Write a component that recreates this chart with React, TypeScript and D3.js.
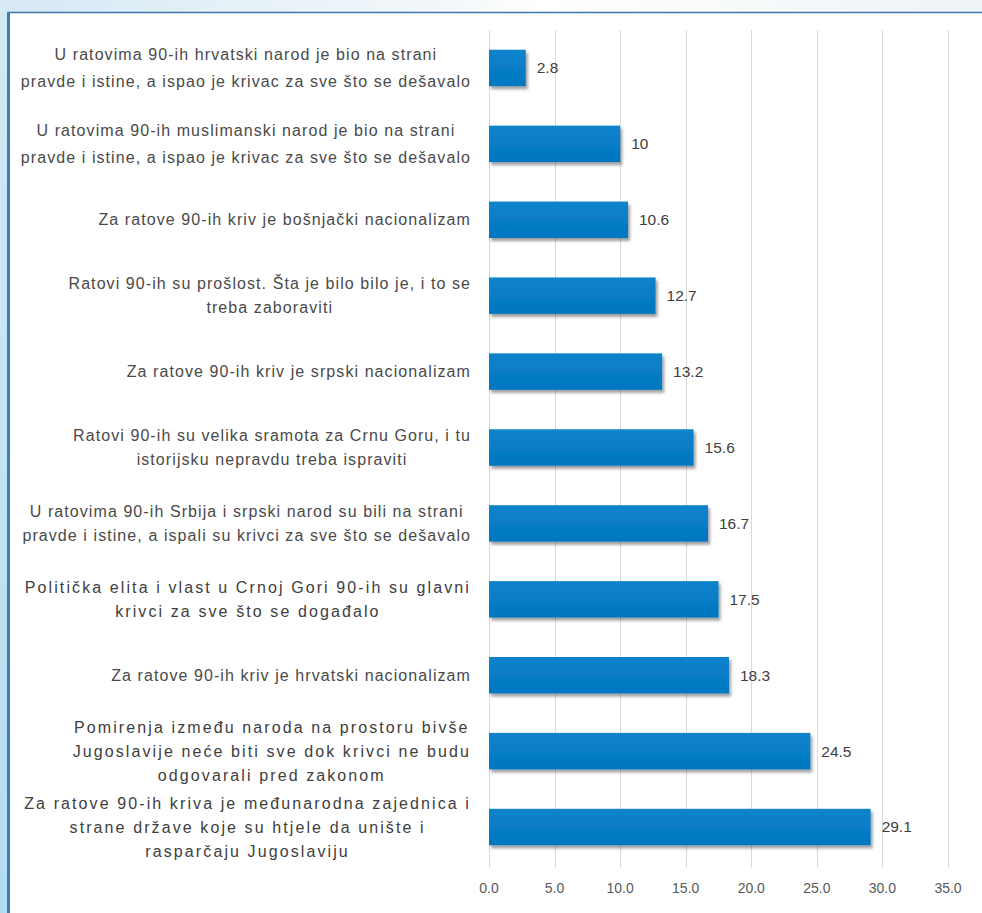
import React, { useEffect, useRef } from "react";
import * as d3 from "d3";

const W = 982;
const H = 913;

const categories: string[][] = [
  ["U ratovima 90-ih hrvatski narod je bio na strani", "pravde i istine, a ispao je krivac za sve što se dešavalo"],
  ["U ratovima 90-ih muslimanski narod je bio na strani", "pravde i istine, a ispao je krivac za sve što se dešavalo"],
  ["Za ratove 90-ih kriv je bošnjački nacionalizam"],
  ["Ratovi 90-ih su prošlost. Šta je bilo bilo je, i to se", "treba zaboraviti"],
  ["Za ratove 90-ih kriv je srpski nacionalizam"],
  ["Ratovi 90-ih su velika sramota za Crnu Goru, i tu", "istorijsku nepravdu treba ispraviti"],
  ["U ratovima 90-ih Srbija i srpski narod su bili na strani", "pravde i istine, a ispali su krivci za sve što se dešavalo"],
  ["Politička elita i vlast u Crnoj Gori 90-ih su glavni", "krivci za sve što se događalo"],
  ["Za ratove 90-ih kriv je hrvatski nacionalizam"],
  ["Pomirenja između naroda na prostoru bivše", "Jugoslavije neće biti sve dok krivci ne budu", "odgovarali pred zakonom"],
  ["Za ratove 90-ih kriva je međunarodna zajednica i", "strane države koje su htjele da unište i", "rasparčaju Jugoslaviju"],
];

const values: number[] = [2.8, 10, 10.6, 12.7, 13.2, 15.6, 16.7, 17.5, 18.3, 24.5, 29.1];

const xTicks: number[] = [0, 5, 10, 15, 20, 25, 30, 35];

const FONT = "'Liberation Sans', Arial, sans-serif";
// rows whose labels are set with the looser letter spacing
const looseRows = new Set([7, 9, 10]);

export default function App() {
  const ref = useRef<SVGSVGElement | null>(null);

  useEffect(() => {
    const svg = d3.select(ref.current);
    svg.selectAll("*").remove();

    const plot = { left: 489, right: 948, top: 30, bottom: 865 };

    const x = d3.scaleLinear().domain([0, 35]).range([plot.left, plot.right]);
    const y = d3
      .scaleBand<number>()
      .domain(d3.range(values.length))
      .range([plot.top, plot.bottom])
      .paddingInner(0.52)
      .paddingOuter(0.26);

    const defs = svg.append("defs");
    const bg = defs
      .append("linearGradient")
      .attr("id", "topStrip")
      .attr("x1", "0")
      .attr("x2", "1")
      .attr("y1", "0")
      .attr("y2", "0");
    bg.append("stop").attr("offset", "0").attr("stop-color", "#d6e9f5");
    bg.append("stop").attr("offset", "0.45").attr("stop-color", "#f3f7fa");
    bg.append("stop").attr("offset", "0.55").attr("stop-color", "#ffffff");
    bg.append("stop").attr("offset", "1").attr("stop-color", "#eef3f6");

    const side = defs
      .append("linearGradient")
      .attr("id", "sideStrip")
      .attr("x1", "0")
      .attr("x2", "0")
      .attr("y1", "0")
      .attr("y2", "1");
    side.append("stop").attr("offset", "0").attr("stop-color", "#d4e8f4");
    side.append("stop").attr("offset", "1").attr("stop-color", "#b4dcf0");

    const barGrad = defs
      .append("linearGradient")
      .attr("id", "barFill")
      .attr("x1", "0")
      .attr("x2", "0")
      .attr("y1", "0")
      .attr("y2", "1");
    barGrad.append("stop").attr("offset", "0").attr("stop-color", "#0a83cc");
    barGrad.append("stop").attr("offset", "1").attr("stop-color", "#0476c0");

    const shadow = defs
      .append("filter")
      .attr("id", "barShadow")
      .attr("x", "-10%")
      .attr("y", "-30%")
      .attr("width", "130%")
      .attr("height", "180%");
    shadow
      .append("feDropShadow")
      .attr("dx", 2)
      .attr("dy", 3)
      .attr("stdDeviation", 1.8)
      .attr("flood-color", "#000")
      .attr("flood-opacity", 0.38);

    // page background and frame
    svg.append("rect").attr("width", W).attr("height", H).attr("fill", "url(#sideStrip)");
    svg.append("rect").attr("width", W).attr("height", 12).attr("fill", "url(#topStrip)");
    svg.append("rect").attr("x", 7).attr("y", 12).attr("width", W - 7).attr("height", H - 12).attr("fill", "#ffffff");
    svg.append("line").attr("x1", 7).attr("x2", W).attr("y1", 12.5).attr("y2", 12.5).attr("stroke", "#3a78ad").attr("stroke-width", 1.5);
    svg.append("line").attr("x1", 8.5).attr("x2", 8.5).attr("y1", 12).attr("y2", H).attr("stroke", "#3a7fb6").attr("stroke-width", 3);

    // vertical gridlines with tick marks
    svg
      .append("g")
      .selectAll("line")
      .data(xTicks)
      .join("line")
      .attr("x1", (d) => Math.round(x(d)) + 0.5)
      .attr("x2", (d) => Math.round(x(d)) + 0.5)
      .attr("y1", plot.top)
      .attr("y2", plot.bottom + 3)
      .attr("stroke", "#d9d9d9")
      .attr("stroke-width", 1);

    // axis tick labels
    svg
      .append("g")
      .selectAll("text")
      .data(xTicks)
      .join("text")
      .attr("x", (d) => x(d))
      .attr("y", 893)
      .attr("text-anchor", "middle")
      .attr("font-family", FONT)
      .attr("font-size", 14)
      .attr("fill", "#595959")
      .text((d) => d.toFixed(1));

    // bars
    svg
      .append("g")
      .selectAll("rect")
      .data(values)
      .join("rect")
      .attr("x", x(0))
      .attr("y", (_, i) => y(i)!)
      .attr("width", (d) => x(d) - x(0))
      .attr("height", y.bandwidth())
      .attr("fill", "url(#barFill)")
      .attr("filter", "url(#barShadow)");

    // value labels
    svg
      .append("g")
      .selectAll("text")
      .data(values)
      .join("text")
      .attr("x", (d) => x(d) + 11)
      .attr("y", (_, i) => y(i)! + y.bandwidth() / 2)
      .attr("dy", "0.35em")
      .attr("font-family", FONT)
      .attr("font-size", 15.5)
      .attr("fill", "#404040")
      .text((d) => String(d));

    // category labels: block right-aligned to the axis, lines centred inside the block
    const labelRight = 471;
    const labels = svg.append("g");
    categories.forEach((lines, i) => {
      const g = labels.append("g");
      const loose = looseRows.has(i);
      const lineH = i < 2 ? 26.5 : 24;
      const cy = y(i)! + y.bandwidth() / 2;
      const texts = lines.map((ln, k) =>
        g
          .append("text")
          .attr("y", cy + (k - (lines.length - 1) / 2) * lineH)
          .attr("dy", "0.35em")
          .attr("text-anchor", "middle")
          .attr("font-family", FONT)
          .attr("font-size", 16)
          .attr("letter-spacing", loose ? 2.1 : 1.08)
          .attr("fill", loose ? "#404040" : "#4a4a4a")
          .text(ln)
      );
      const widths = texts.map((t) => (t.node() as SVGTextElement).getComputedTextLength());
      const maxW = d3.max(widths) ?? 0;
      texts.forEach((t) => t.attr("x", labelRight - maxW / 2));
    });
  }, []);

  return (
    <svg
      ref={ref}
      width={W}
      height={H}
      style={{ position: "absolute", left: 0, top: 0, display: "block" }}
    />
  );
}
